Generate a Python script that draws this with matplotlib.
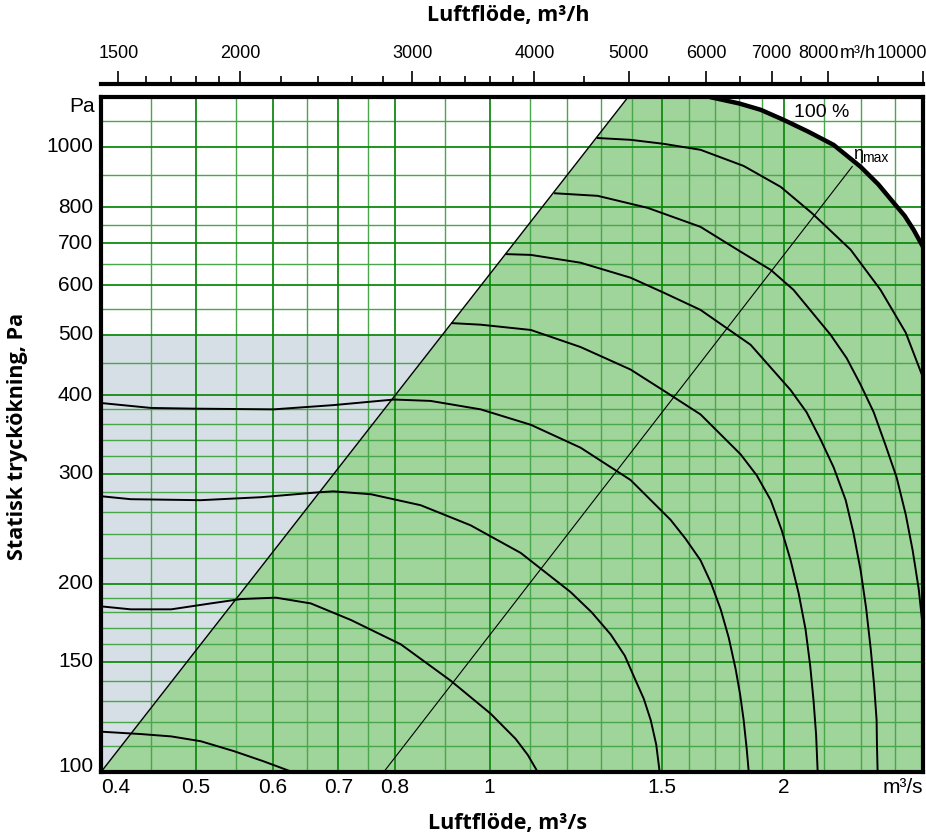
import matplotlib
matplotlib.use("Agg")
import matplotlib.pyplot as plt
from matplotlib import transforms
from matplotlib.patches import Polygon

# flow in m3/s, pressure in Pa
Q_MIN, Q_MAX = 0.4, 10000 / 3600
P_MIN, P_MAX = 100, 1200

# grid lines
GRID_Q_MAJOR = [0.5, 0.6, 0.7, 0.8, 1.0, 1.5, 2.0]
GRID_Q_MINOR = [0.45, 0.55, 0.65, 0.75, 0.9, 1.1, 1.2, 1.3, 1.4, 1.6, 1.7, 1.8, 1.9, 2.2, 2.4, 2.6]
GRID_P_MAJOR = [150, 200, 300, 400, 500, 600, 700, 800, 1000]
GRID_P_MINOR = [110, 120, 130, 140, 160, 170, 180, 190, 220, 240, 260, 280,
                320, 340, 360, 380, 450, 550, 650, 750, 900, 1100]

# tick labels
X_TICKS = [0.4, 0.5, 0.6, 0.7, 0.8, 1.0, 1.5, 2.0]
X_LABELS = ["0.4", "0.5", "0.6", "0.7", "0.8", "1", "1.5", "2"]
Y_TICKS = [100, 150, 200, 300, 400, 500, 600, 700, 800, 1000]
TOP_MAJOR = [1500, 2000, 3000, 4000, 5000, 6000, 7000, 8000, 10000]
TOP_LABELS = ["1500", "2000", "3000", "4000", "5000", "6000", "7000", "8000", "10000"]
TOP_MINOR = [1600, 1700, 1800, 1900, 2200, 2400, 2600, 2800, 3200, 3400, 3600, 3800,
             4500, 5500, 6500, 7500, 9000]

# system line bounding the working range, and the eta-max line
SYS_Q = [0.4, 1.386]
SYS_P = [100, 1200]
ETA_Q = [0.779, 2.351]
ETA_P = [100, 929]

# grey (stall) area: left of the system line, below 500 Pa
GREY_Q = [0.4, 0.4, 0.894]
GREY_P = [100, 500, 500]

# 100 % curve
Q100 = [1.68, 1.696, 1.80, 1.894, 2.0, 2.12, 2.25, 2.398, 2.50, 2.592, 2.66, 2.717, 2.778]
P100 = [1200, 1196, 1172, 1145, 1103, 1056, 1006, 928, 870, 813, 775, 736, 691]

# fan curves, lowest first
C1_Q = [0.4, 0.439, 0.472, 0.506, 0.547, 0.587, 0.628]
C1_P = [116, 115, 114, 112, 108, 104, 100]
C2_Q = [0.4, 0.429, 0.472, 0.518, 0.556, 0.604, 0.656, 0.721, 0.811, 0.912, 1.002, 1.063,
        1.094, 1.12]
C2_P = [184, 182, 182, 186, 189, 190, 186, 175, 160, 140, 124, 113, 106.5, 100]
C3_Q = [0.4, 0.429, 0.506, 0.583, 0.668, 0.692, 0.756, 0.850, 0.956, 1.076, 1.210, 1.272,
        1.330, 1.375, 1.411, 1.438, 1.462, 1.481, 1.493]
C3_P = [276, 273, 272, 275, 280, 281, 278, 267, 248, 224, 194, 180, 166, 153.5, 140, 131,
        121, 110.6, 100]
C4_Q = [0.4, 0.450, 0.498, 0.601, 0.692, 0.798, 0.870, 0.979, 1.102, 1.239, 1.394, 1.532,
        1.587, 1.644, 1.684, 1.724, 1.757, 1.786, 1.805, 1.820, 1.833, 1.842]
C4_P = [389, 382, 381, 380, 386, 394, 392, 380, 359, 330, 293, 253, 236, 218, 201, 182,
        164, 146, 133, 121, 109, 100]
C5_Q = [0.914, 0.979, 1.102, 1.239, 1.394, 1.504, 1.644, 1.807, 1.877, 1.940, 1.990, 2.033,
        2.072, 2.106, 2.129, 2.146, 2.159, 2.167]
C5_P = [522, 519, 509, 478, 440, 408, 373, 322, 298, 272, 244, 218, 193, 169, 148, 130,
        114.7, 100]
C6_Q = [1.038, 1.102, 1.239, 1.394, 1.507, 1.644, 1.850, 2.033, 2.111, 2.182, 2.250, 2.315,
        2.358, 2.398, 2.429, 2.456, 2.475, 2.490, 2.492, 2.496]
C6_P = [673, 671, 652, 617, 584, 548, 482, 408, 376, 340, 307, 272, 241, 210, 183, 157,
        138, 121, 110.6, 100]
C7_Q = [1.164, 1.290, 1.451, 1.644, 1.807, 1.940, 2.047, 2.234, 2.320, 2.398, 2.473, 2.543,
        2.610, 2.667, 2.711, 2.750, 2.778]
C7_P = [842, 834, 798, 744, 679, 635, 590, 500, 459, 416, 376, 333, 296, 258, 226, 196, 169]
C8_Q = [1.287, 1.394, 1.507, 1.644, 1.820, 1.986, 2.137, 2.342, 2.513, 2.667, 2.778]
C8_P = [1032, 1025, 1010, 988, 931, 862, 783, 684, 590, 504, 427]
CURVES = [(C1_Q, C1_P), (C2_Q, C2_P), (C3_Q, C3_P), (C4_Q, C4_P),
          (C5_Q, C5_P), (C6_Q, C6_P), (C7_Q, C7_P), (C8_Q, C8_P)]

GREEN = "#9fd59b"
GREY = "#d5dfe5"
GRID_DARK = "#118a11"
GRID_LIGHT = "#4aa64a"
SANS = ["Liberation Sans", "DejaVu Sans"]
BOLD = ["Open Sans", "DejaVu Sans"]

W, H = 926, 838
L, R, T, B = 101, 923, 97, 772

fig = plt.figure(figsize=(W / 100, H / 100), dpi=100)
ax = fig.add_axes([L / W, 1 - B / H, (R - L) / W, (B - T) / H])
ax.set_xscale("log")
ax.set_yscale("log")
ax.set_xlim(Q_MIN, Q_MAX)
ax.set_ylim(P_MIN, P_MAX)
ax.set_xticks([])
ax.set_xticks([], minor=True)
ax.set_yticks([])
ax.set_yticks([], minor=True)

ax.add_patch(Polygon(list(zip(GREY_Q, GREY_P)), closed=True, fc=GREY, ec="none", zorder=0.5))
green = [(SYS_Q[0], SYS_P[0]), (SYS_Q[1], SYS_P[1])] + list(zip(Q100, P100)) + [(Q_MAX, P_MIN)]
ax.add_patch(Polygon(green, closed=True, fc=GREEN, ec="none", zorder=0.6))

for q in GRID_Q_MINOR:
    ax.axvline(q, color=GRID_LIGHT, lw=1.0, zorder=1)
for p in GRID_P_MINOR:
    ax.axhline(p, color=GRID_LIGHT, lw=1.0, zorder=1)
for q in GRID_Q_MAJOR:
    ax.axvline(q, color=GRID_DARK, lw=1.3, zorder=1.1)
for p in GRID_P_MAJOR:
    ax.axhline(p, color=GRID_DARK, lw=1.3, zorder=1.1)

ax.plot(SYS_Q, SYS_P, color="black", lw=1.0, zorder=2)
ax.plot(ETA_Q, ETA_P, color="black", lw=0.8, zorder=2)
for q, p in CURVES:
    ax.plot(q, p, color="black", lw=1.4, zorder=3, solid_capstyle="butt", solid_joinstyle="round")
ax.plot(Q100, P100, color="black", lw=3.2, zorder=3, solid_capstyle="butt", solid_joinstyle="round")

for s in ax.spines.values():
    s.set_linewidth(3)
    s.set_capstyle("projecting")
    s.set_zorder(5)

ax.text(2.188, 1132, "100 %", family=SANS, fontsize=14, ha="center", va="center", zorder=4)
ax.text(2.353, 972, "η", family=SANS, fontsize=13, ha="left", va="center", zorder=4)
ax.text(2.405, 958, "max", family=SANS, fontsize=10, ha="left", va="center", zorder=4)

# bottom labels
bt = transforms.blended_transform_factory(ax.transData, fig.transFigure)
for q, lab in zip(X_TICKS, X_LABELS):
    ax.text(q, 1 - 787 / H, lab, transform=bt, family=SANS, fontsize=15,
            ha="left" if q == Q_MIN else "center", va="center")
ax.text(Q_MAX, 1 - 787 / H, "m³/s", transform=bt, family=SANS, fontsize=15,
        ha="right", va="center")

# left labels
lt = transforms.blended_transform_factory(fig.transFigure, ax.transData)
for p in Y_TICKS:
    tr = lt
    if p == P_MIN:
        tr = transforms.offset_copy(lt, fig, y=6, units="dots")
    ax.text(93 / W, p, str(p), transform=tr, family=SANS, fontsize=15,
            ha="right", va="center")
ax.text(95 / W, 1157, "Pa", transform=lt, family=SANS, fontsize=15, ha="right", va="center")

# top m3/h scale
ax_top = fig.add_axes([L / W, 1 - 84 / H, (R - L) / W, 0.0001])
ax_top.set_xscale("log")
ax_top.set_xlim(Q_MIN * 3600, Q_MAX * 3600)
ax_top.set_yticks([])
for k in ["top", "left", "right"]:
    ax_top.spines[k].set_visible(False)
ax_top.spines["bottom"].set_linewidth(3)
ax_top.spines["bottom"].set_capstyle("projecting")
ax_top.set_xticks(TOP_MAJOR)
ax_top.set_xticks(TOP_MINOR, minor=True)
ax_top.xaxis.tick_top()
ax_top.tick_params(which="major", length=9.5, width=1.2, labeltop=False, labelbottom=False)
ax_top.tick_params(which="minor", length=5.5, width=1.2, labeltop=False, labelbottom=False)
ax_top.patch.set_visible(False)

tt = transforms.blended_transform_factory(ax_top.transData, fig.transFigure)
for m, lab in zip(TOP_MAJOR, TOP_LABELS):
    tr, ha = tt, "center"
    if m == 8000:
        tr = transforms.offset_copy(tt, fig, x=-10, units="dots")
    if m == 10000:
        tr, ha = transforms.offset_copy(tt, fig, x=4, units="dots"), "right"
    ax_top.text(m, 1 - 53 / H, lab, transform=tr, family=SANS, fontsize=13, ha=ha, va="center")
ax_top.text(8000, 1 - 53 / H, "m³/h", transform=transforms.offset_copy(tt, fig, x=11, units="dots"),
            family=SANS, fontsize=13, ha="left", va="center")

fig.text(508 / W, 1 - 15 / H, "Luftflöde, m³/h", family=BOLD, fontweight="bold",
         fontsize=15.5, ha="center", va="center")
fig.text(508 / W, 1 - 823 / H, "Luftflöde, m³/s", family=BOLD, fontweight="bold",
         fontsize=15.5, ha="center", va="center")
fig.text(18 / W, 1 - 436 / H, "Statisk tryckökning, Pa", family=BOLD, fontweight="bold",
         fontsize=15.5, rotation=90, ha="center", va="center")

fig.savefig("out.png", dpi=100)
